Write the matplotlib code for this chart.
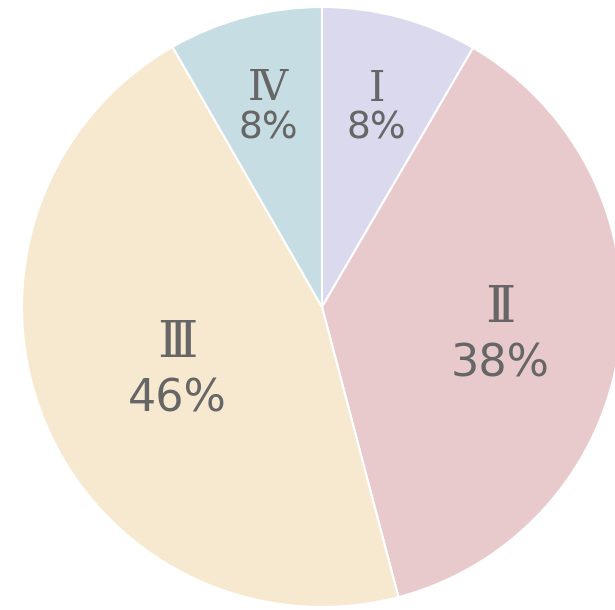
# quadrant share pie, roman numeral labels with percent under them
import matplotlib.pyplot as plt
import numpy as np

quadrants = ["Ⅰ", "Ⅱ", "Ⅲ", "Ⅳ"]
shares = [8.4, 37.5, 45.8, 8.3]
colors = ["#dad9ee", "#e8cacd", "#f7e9d0", "#c6dee3"]
label_r = [0.70, 0.60, 0.52, 0.70]   # small slices get pushed out a bit
num_size = [30, 37, 37, 30]
pct_size = [27, 32, 32, 27]
gap = [29, 41, 41, 29]               # points between numeral and percent centres

fig = plt.figure(figsize=(6.15, 6.10), dpi=100)
ax = fig.add_axes([22/615, 3/610, 600/615, 600/610])
wedges, _ = ax.pie(shares, colors=colors, startangle=90, counterclock=False,
                   radius=1, wedgeprops=dict(edgecolor="white", linewidth=1.5))
ax.set_xlim(-1, 1); ax.set_ylim(-1, 1)
ax.set_aspect("equal"); ax.axis("off")

for w, q, s, r, ns, ps, g in zip(wedges, quadrants, shares, label_r, num_size, pct_size, gap):
    a = np.radians((w.theta1 + w.theta2) / 2)
    x, y = r*np.cos(a), r*np.sin(a)
    ax.annotate(q, (x, y), xytext=(0, g/2), textcoords="offset points",
                ha="center", va="center_baseline", fontsize=ns, color="#666666",
                family=["DejaVu Serif", "DejaVu Sans"])
    ax.annotate(f"{round(s)}%", (x, y), xytext=(0, -g/2), textcoords="offset points",
                ha="center", va="center_baseline", fontsize=ps, color="#666666",
                family="DejaVu Sans")

fig.savefig("out.png", dpi=100)
